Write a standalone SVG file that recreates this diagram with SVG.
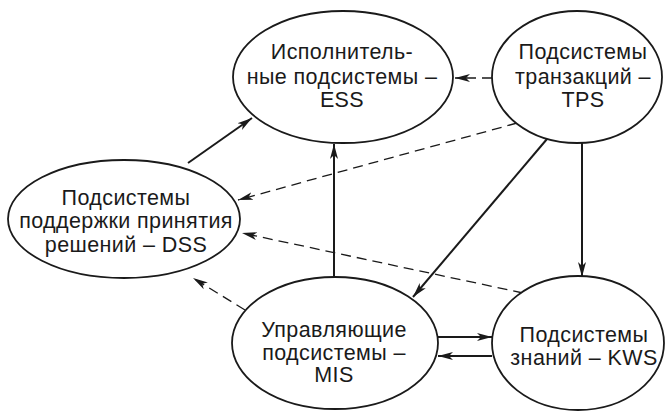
<svg xmlns="http://www.w3.org/2000/svg" width="667" height="412" viewBox="0 0 667 412">
<style>
.node ellipse{fill:#fff;stroke:#1a1a1a;stroke-width:1.8}
.node text{font-family:"Liberation Sans",Arial,sans-serif;font-size:21.5px;letter-spacing:0.4px;fill:#1a1a1a;text-anchor:middle}
.solid{stroke:#1a1a1a;stroke-width:2;fill:none;marker-end:url(#arr)}
.dash{stroke:#1a1a1a;stroke-width:1.3;fill:none;stroke-dasharray:10 6;marker-end:url(#arr)}
</style>
<defs>
<marker id="arr" markerUnits="userSpaceOnUse" markerWidth="16" markerHeight="10" refX="15" refY="5" orient="auto">
<path d="M0,1 L15,5 L0,9 L4,5 z" fill="#1a1a1a"/>
</marker>
</defs>
<rect width="667" height="412" fill="#fff"/>
<g id="connectors">
<line class="solid" x1="188" y1="163" x2="252" y2="118"/>
<line class="dash" x1="492" y1="78" x2="455" y2="78"/>
<line class="dash" x1="517" y1="123" x2="238" y2="200"/>
<line class="solid" x1="547" y1="139" x2="413" y2="297"/>
<line class="solid" x1="582" y1="143" x2="582" y2="277"/>
<line class="solid" x1="334" y1="277" x2="334" y2="144"/>
<line class="dash" x1="523" y1="293" x2="242" y2="233"/>
<line class="dash" x1="245" y1="310" x2="193" y2="278"/>
<line class="solid" x1="438" y1="337" x2="492" y2="337"/>
<line class="solid" x1="492" y1="356" x2="438" y2="356"/>
</g>
<g id="ess" class="node">
<ellipse cx="343" cy="77" rx="110" ry="66"/>
<text x="342" y="59">Исполнитель-</text>
<text x="342" y="84">ные подсистемы –</text>
<text x="342" y="107">ESS</text>
</g>
<g id="tps" class="node">
<ellipse cx="577" cy="77" rx="85" ry="66"/>
<text x="583" y="59">Подсистемы</text>
<text x="583" y="84">транзакций –</text>
<text x="583" y="107">TPS</text>
</g>
<g id="dss" class="node">
<ellipse cx="124" cy="219" rx="116" ry="59"/>
<text x="126" y="205">Подсистемы</text>
<text x="126" y="228">поддержки принятия</text>
<text x="126" y="252">решений – DSS</text>
</g>
<g id="mis" class="node">
<ellipse cx="335" cy="343" rx="103" ry="66"/>
<text x="334" y="337">Управляющие</text>
<text x="334" y="360">подсистемы –</text>
<text x="334" y="382">MIS</text>
</g>
<g id="kws" class="node">
<ellipse cx="578" cy="343" rx="86" ry="67"/>
<text x="584" y="342">Подсистемы</text>
<text x="584" y="365">знаний – KWS</text>
</g>
</svg>
